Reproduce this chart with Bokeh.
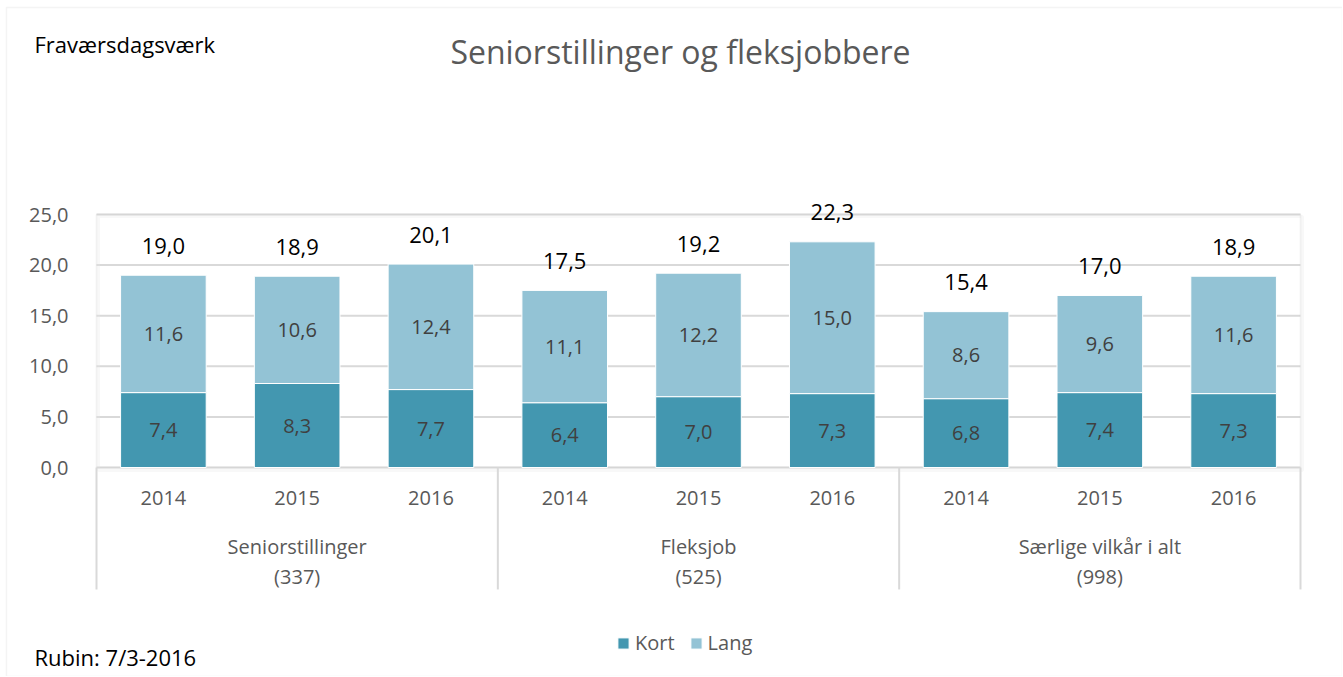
from bokeh.plotting import figure
from bokeh.models import (ColumnDataSource, Range1d, FixedTicker, BoxAnnotation, Label, LinearAxis)
from bokeh.core.properties import value
from bokeh.embed import file_html
from bokeh.resources import INLINE

# ---- data ----
groups = ["Seniorstillinger", "Seniorstillinger", "Seniorstillinger",
          "Fleksjob", "Fleksjob", "Fleksjob",
          "Særlige vilkår i alt", "Særlige vilkår i alt", "Særlige vilkår i alt"]
years = ["2014", "2015", "2016", "2014", "2015", "2016", "2014", "2015", "2016"]
kort = [7.4, 8.3, 7.7, 6.4, 7.0, 7.3, 6.8, 7.4, 7.3]
lang = [11.6, 10.6, 12.4, 11.1, 12.2, 15.0, 8.6, 9.6, 11.6]
totals = [19.0, 18.9, 20.1, 17.5, 19.2, 22.3, 15.4, 17.0, 18.9]
group_names = ["Seniorstillinger", "Fleksjob", "Særlige vilkår i alt"]
group_counts = ["(337)", "(525)", "(998)"]
y_ticks = [0, 5, 10, 15, 20, 25]

def fmt(v):
    return f"{v:.1f}".replace(".", ",")

FONT = "Open Sans"
KORT_C = "#4397b0"
LANG_C = "#93c3d5"
GRID_C = "#d9d9d9"
TXT_C = "#595959"

n = len(years)
xs = list(range(n))
ymax = max(y_ticks)

# layout geometry (pixels)
W, H = 1342, 676
XPX = 133.78          # pixels per category
YPX = 10.12           # pixels per unit
PLOT_L, PLOT_R, PLOT_B = 96, 1300, 467   # canvas coordinates of plot area
x0 = -0.5 - PLOT_L / XPX
x1 = n - 0.5 + (W - PLOT_R) / XPX
y1 = PLOT_B / YPX
y0 = -(H - PLOT_B) / YPX

src = ColumnDataSource(dict(
    x=xs, kort=kort, lang=lang,
    kort_mid=[k / 2 for k in kort],
    lang_mid=[k + l / 2 for k, l in zip(kort, lang)],
    kort_lbl=[fmt(v) for v in kort],
    lang_lbl=[fmt(v) for v in lang],
    tot_y=[t + 2.9 for t in totals],
    tot_lbl=[fmt(v) for v in totals],
    year=years,
    year_y=[-3.06] * n,
))

p = figure(width=W, height=H, output_backend="svg", toolbar_location=None,
           x_range=Range1d(x0, x1), y_range=Range1d(y0, y1),
           x_axis_location=None, y_axis_location=None,
           min_border_left=0, min_border_right=0,
           min_border_top=0, min_border_bottom=0)
p.outline_line_color = None
p.background_fill_color = "white"
p.border_fill_color = "white"
p.xgrid.visible = False
p.ygrid.visible = False

# outer frame of the figure
p.add_layout(BoxAnnotation(left=x0 + 6 / XPX, top=y1 - 7 / YPX, fill_alpha=0,
                           line_color="#d9d9d9", line_width=1.5, level="underlay"))

# y axis drawn at the plot-area edge
yax = LinearAxis(ticker=FixedTicker(ticks=y_ticks), fixed_location=-0.5)
yax.major_label_overrides = {t: fmt(t) for t in y_ticks}
yax.axis_line_color = None
yax.major_tick_line_color = None
yax.minor_tick_line_color = None
yax.major_label_standoff = 22
yax.major_label_text_font = FONT
yax.major_label_text_font_size = "20px"
yax.major_label_text_color = TXT_C
p.add_layout(yax, "left")

# grid lines
p.segment(x0=[-0.5] * len(y_ticks), x1=[n - 0.5] * len(y_ticks), y0=y_ticks, y1=y_ticks,
          line_color=GRID_C, line_width=2, level="underlay")

# plot-area box with a soft shadow
p.add_layout(BoxAnnotation(left=-0.5 + 2 / XPX, right=n - 0.5 + 2 / XPX,
                           bottom=-3 / YPX, top=ymax - 2 / YPX,
                           fill_alpha=0, line_color="#e8e8e8", line_width=3,
                           level="underlay"))
p.add_layout(BoxAnnotation(left=-0.5, right=n - 0.5, bottom=0, top=ymax,
                           fill_color="white", fill_alpha=0, line_color="#d0d0d0",
                           line_width=1.5, level="underlay"))

# bars
p.vbar_stack(["kort", "lang"], x="x", width=0.64, source=src,
             color=[KORT_C, LANG_C], line_color="white", line_width=1,
             legend_label=["Kort", "Lang"])

# value labels
p.text(x="x", y="kort_mid", text="kort_lbl", source=src, text_align="center",
       text_baseline="middle", text_font=value(FONT), text_font_size="20px",
       text_color="#404040")
p.text(x="x", y="lang_mid", text="lang_lbl", source=src, text_align="center",
       text_baseline="middle", text_font=value(FONT), text_font_size="20px",
       text_color="#404040")
p.text(x="x", y="tot_y", text="tot_lbl", source=src, text_align="center",
       text_baseline="middle", text_font=value(FONT), text_font_size="22px",
       text_color="black")

# category axis (years)
p.text(x="x", y="year_y", text="year", source=src, text_align="center",
       text_baseline="middle", text_font=value(FONT), text_font_size="20px",
       text_color=TXT_C)

# group labels and separators
starts = [i for i in range(n) if i == 0 or groups[i] != groups[i - 1]]
ends = starts[1:] + [n]
gx = [(s + e - 1) / 2 for s, e in zip(starts, ends)]
gsrc = ColumnDataSource(dict(x=gx, name=group_names, cnt=group_counts,
                             y1=[-7.8] * len(gx), y2=[-10.77] * len(gx)))
p.text(x="x", y="y1", text="name", source=gsrc, text_align="center",
       text_baseline="middle", text_font=value(FONT), text_font_size="20px",
       text_color=TXT_C)
p.text(x="x", y="y2", text="cnt", source=gsrc, text_align="center",
       text_baseline="middle", text_font=value(FONT), text_font_size="20px",
       text_color=TXT_C)
bounds = [s - 0.5 for s in starts] + [n - 0.5]
p.segment(x0=bounds, x1=bounds, y0=[0] * len(bounds), y1=[-12.05] * len(bounds),
          line_color=GRID_C, line_width=2)

# legend
lg = p.legend[0]
lg.orientation = "horizontal"
lg.location = (616, 20)
lg.background_fill_alpha = 0
lg.border_line_color = None
lg.padding = 0
lg.margin = 0
lg.spacing = 14
lg.glyph_width = 14
lg.glyph_height = 14
lg.label_standoff = 5
lg.label_text_font = FONT
lg.label_text_font_size = "20px"
lg.label_text_color = TXT_C

# texts
p.add_layout(Label(x=4, x_offset=-18, y=41.1, text="Seniorstillinger og fleksjobbere",
                   text_align="center", text_baseline="middle", text_font=FONT,
                   text_font_size="32px", text_color=TXT_C))
p.add_layout(Label(x=-0.5, x_offset=-62, y=41.8, text="Fraværsdagsværk",
                   text_align="left", text_baseline="middle", text_font=FONT,
                   text_font_size="22px", text_color="black"))
p.add_layout(Label(x=-0.5, x_offset=-62, y=-18.68, text="Rubin: 7/3-2016",
                   text_align="left", text_baseline="middle", text_font=FONT,
                   text_font_size="22px", text_color="black"))

open("out.html", "w").write(file_html(p, INLINE))
